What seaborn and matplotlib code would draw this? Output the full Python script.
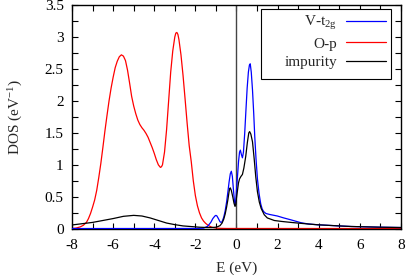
import matplotlib
matplotlib.use("Agg")
import matplotlib.pyplot as plt
from matplotlib.ticker import MultipleLocator, FuncFormatter
from matplotlib.offsetbox import DrawingArea
import seaborn as sns

# values
e_op = [-8.0, -7.8, -7.6, -7.45, -7.3, -7.2, -7.1, -7.0, -6.9, -6.8, -6.7, -6.6,
        -6.5, -6.4, -6.3, -6.2, -6.1, -6.0, -5.9, -5.8, -5.7, -5.6, -5.5, -5.4,
        -5.3, -5.2, -5.1, -5.0, -4.9, -4.8, -4.7, -4.6, -4.5, -4.4, -4.3, -4.2,
        -4.1, -4.0, -3.9, -3.8, -3.7, -3.65, -3.6, -3.5, -3.4, -3.3, -3.2, -3.1,
        -3.0, -2.95, -2.9, -2.85, -2.8, -2.7, -2.6, -2.5, -2.4, -2.3, -2.2, -2.1,
        -2.0, -1.9, -1.8, -1.7, -1.6, -1.5, -1.4, -1.3, -1.2, -1.1, -1.0, -0.8,
        -0.5, 8.0]
dos_op = [0.005, 0.012, 0.03, 0.055, 0.1, 0.16, 0.24, 0.34, 0.45, 0.6, 0.8, 1.02,
          1.27, 1.53, 1.77, 2.0, 2.2, 2.37, 2.52, 2.62, 2.69, 2.72, 2.7, 2.63,
          2.48, 2.28, 2.07, 1.92, 1.8, 1.7, 1.63, 1.58, 1.54, 1.49, 1.43, 1.35,
          1.27, 1.18, 1.08, 1.0, 0.96, 0.97, 1.0, 1.2, 1.55, 2.0, 2.45, 2.78,
          3.0, 3.06, 3.07, 3.04, 2.96, 2.72, 2.4, 2.03, 1.65, 1.3, 1.05, 0.75,
          0.52, 0.36, 0.25, 0.17, 0.12, 0.085, 0.06, 0.04, 0.025, 0.017, 0.012, 0.007,
          0.005, 0.004]

e_v = [-8.0, -2.0, -1.6, -1.4, -1.25, -1.15, -1.05, -1.0, -0.95, -0.88, -0.8,
       -0.75, -0.7, -0.62, -0.55, -0.48, -0.42, -0.36, -0.3, -0.25, -0.2, -0.15,
       -0.1, -0.07, -0.03, 0.0, 0.05, 0.1, 0.15, 0.19, 0.24, 0.29, 0.34, 0.4,
       0.46, 0.52, 0.58, 0.63, 0.67, 0.72, 0.78, 0.84, 0.89, 0.95, 1.02, 1.1,
       1.18, 1.25, 1.32, 1.43, 1.6, 1.99, 2.3, 2.65, 3.14, 3.5, 3.95, 5.0,
       5.58, 7.0, 8.0]
dos_v = [0.004, 0.005, 0.01, 0.04, 0.1, 0.16, 0.2, 0.21, 0.2, 0.16, 0.11,
         0.1, 0.11, 0.18, 0.28, 0.42, 0.57, 0.73, 0.86, 0.9, 0.82, 0.62,
         0.44, 0.37, 0.45, 0.6, 0.82, 1.05, 1.2, 1.23, 1.16, 1.11, 1.2, 1.49,
         1.85, 2.2, 2.45, 2.56, 2.58, 2.45, 2.17, 1.8, 1.44, 1.1, 0.78, 0.55,
         0.39, 0.31, 0.27, 0.24, 0.225, 0.2, 0.17, 0.14, 0.095, 0.075, 0.063, 0.045,
         0.036, 0.025, 0.02]

e_imp = [-8.0, -7.5, -7.0, -6.5, -6.0, -5.5, -5.0, -4.6, -4.2, -3.8, -3.4, -3.0,
         -2.6, -2.2, -1.8, -1.43, -1.2, -1.0, -0.9, -0.8, -0.7, -0.62, -0.55,
         -0.48, -0.42, -0.36, -0.33, -0.3, -0.25, -0.18, -0.12, -0.07, -0.03, 0.0,
         0.05, 0.1, 0.15, 0.22, 0.29, 0.36, 0.45, 0.53, 0.6, 0.64, 0.7, 0.78,
         0.86, 0.94, 1.02, 1.11, 1.2, 1.35, 1.5, 1.84, 2.2, 2.65, 3.14, 3.5,
         3.95, 5.0, 5.58, 7.0, 8.0]
dos_imp = [0.06, 0.08, 0.1, 0.13, 0.16, 0.195, 0.21, 0.2, 0.17, 0.13, 0.09, 0.065,
           0.045, 0.035, 0.025, 0.02, 0.02, 0.025, 0.035, 0.05, 0.09, 0.15, 0.23,
           0.34, 0.45, 0.58, 0.63, 0.64, 0.6, 0.5, 0.4, 0.35, 0.38, 0.48,
           0.6, 0.72, 0.78, 0.82, 0.85, 0.95, 1.13, 1.35, 1.5, 1.52, 1.48, 1.36,
           1.1, 0.81, 0.58, 0.42, 0.32, 0.22, 0.17, 0.13, 0.115, 0.1, 0.085, 0.075,
           0.063, 0.045, 0.036, 0.025, 0.02]

sns.set_style("ticks")
plt.rcParams["font.family"] = ["Liberation Serif", "DejaVu Serif"]
plt.rcParams["mathtext.fontset"] = "custom"
plt.rcParams["mathtext.rm"] = "Liberation Serif"
plt.rcParams["mathtext.it"] = "Liberation Serif:italic"
plt.rcParams["axes.unicode_minus"] = False

fig = plt.figure(figsize=(4.07, 2.75), dpi=100)
ax = fig.add_axes([0.177, 0.168, 0.808, 0.814])

ax.axvline(0, color="#444444", lw=1.0, zorder=1)

sns.lineplot(x=e_v, y=dos_v, ax=ax, color="#0000ff", lw=0.9, sort=False,
             label=r"V-t$_\mathrm{2g}$", zorder=3)
sns.lineplot(x=e_op, y=dos_op, ax=ax, color="#ff0000", lw=0.9, sort=False,
             label="O-p", zorder=2)
sns.lineplot(x=e_imp, y=dos_imp, ax=ax, color="black", lw=0.9, sort=False,
             label="impurity", zorder=4)

ax.set_xlim(-8, 8)
ax.set_ylim(0, 3.5)
ax.xaxis.set_major_locator(MultipleLocator(2))
ax.xaxis.set_minor_locator(MultipleLocator(1))
ax.yaxis.set_major_locator(MultipleLocator(0.5))
ax.yaxis.set_minor_locator(MultipleLocator(0.25))
ax.xaxis.set_major_formatter(FuncFormatter(lambda v, p: "%g" % v))
ax.yaxis.set_major_formatter(FuncFormatter(lambda v, p: "%g" % v))
ax.tick_params(which="both", direction="in", top=True, right=True,
               labelsize=11, width=0.8, colors="black")
ax.tick_params(which="major", length=4)
ax.tick_params(which="minor", length=4)
ax.tick_params(axis="x", pad=7)
ax.tick_params(axis="y", pad=6)
for s in ax.spines.values():
    s.set_linewidth(1.0)
    s.set_color("black")

ax.set_xlabel("E (eV)", fontsize=11, labelpad=7)
ax.set_ylabel(r"DOS (eV$^{-1}$)", fontsize=11, labelpad=14)

leg = ax.legend(loc="upper right", bbox_to_anchor=(0.970, 0.982), markerfirst=False,
                fontsize=11, handlelength=2.6, handletextpad=0.6, labelspacing=0.3,
                borderpad=0.35, fancybox=False, framealpha=1, edgecolor="black",
                borderaxespad=0)
leg.get_frame().set_linewidth(0.8)
# gnuplot-style key: wider box with empty room left of the labels
col = leg._legend_handle_box.get_children()[0]
col.get_children().append(DrawingArea(86, 0))

fig.savefig("out.png", dpi=100)
